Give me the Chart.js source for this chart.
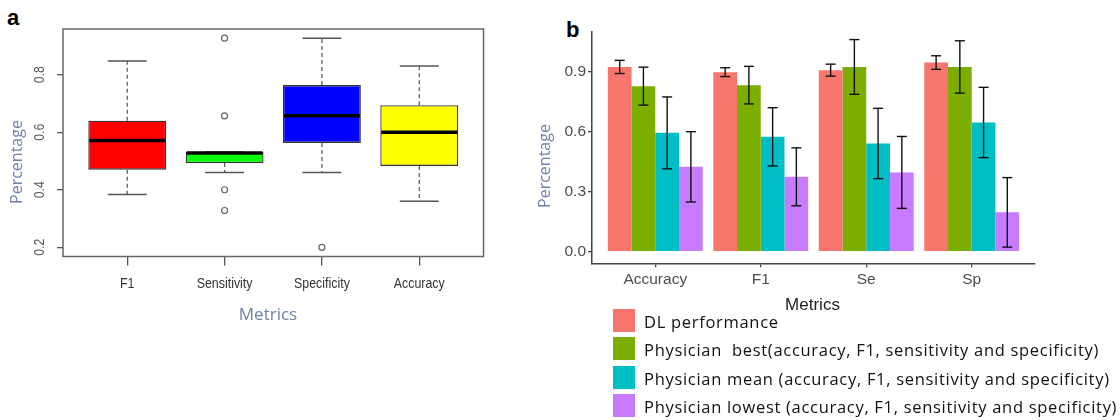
<!DOCTYPE html>
<html>
<head>
<meta charset="utf-8">
<script src="https://cdn.jsdelivr.net/npm/chart.js@4.4.1/dist/chart.umd.min.js"></script>
<style>
  body { margin: 0; width: 1120px; height: 420px; background: #fff; overflow: hidden; position: relative; }
  .panel { position: absolute; top: 0; }
  .tag { position: absolute; font: bold 22px 'Liberation Sans', Arial, sans-serif; color: #000; }
  #legendB { position: absolute; left: 613px; top: 309px; font-family: 'Open Sans', sans-serif; }
  .lg-row { position: relative; height: 28.3px; }
  .lg-box { position: absolute; left: 0; top: 0; width: 22px; height: 23px; }
  .lg-text { position: absolute; left: 31px; top: 0; line-height: 25px; font-size: 16.5px; letter-spacing: 0.7px; color: #111; white-space: pre; }
</style>
</head>
<body>
<div class="tag" style="left:7px; top:5px;">a</div>
<div class="tag" style="left:566px; top:17px;">b</div>
<div class="panel" style="left:0; width:540px; height:420px;"><canvas id="chartA"></canvas></div>
<div class="panel" style="left:520px; width:600px; height:320px;"><canvas id="chartB"></canvas></div>
<div id="legendB"></div>
<script>
// ---- panel a: box plot ----
const metricsA = ['F1', 'Sensitivity', 'Specificity', 'Accuracy'];
const boxColorsA = ['#ff0000', '#00ff00', '#0000ff', '#ffff00'];
const whiskerLowA = [0.384, 0.460, 0.460, 0.360];
const q1A = [0.470, 0.493, 0.563, 0.483];
const medianA = [0.571, 0.528, 0.657, 0.600];
const q3A = [0.640, 0.531, 0.764, 0.694];
const whiskerHighA = [0.848, 0.531, 0.927, 0.830];
const outliersA = [[], [0.927, 0.657, 0.400, 0.328], [0.200], []];
const yTicksA = [0.2, 0.4, 0.6, 0.8];

// ---- panel b: grouped bars with error bars ----
const metricsB = ['Accuracy', 'F1', 'Se', 'Sp'];
const seriesNames = [
    'DL performance',
    'Physician  best(accuracy, F1, sensitivity and specificity)',
    'Physician mean (accuracy, F1, sensitivity and specificity)',
    'Physician lowest (accuracy, F1, sensitivity and specificity)'
];
const seriesColors = ['#f8766d', '#7cae00', '#00bfc4', '#c77cff'];
const dlValues = [0.925, 0.899, 0.909, 0.947];
const dlErr = [0.033, 0.022, 0.030, 0.034];
const bestValues = [0.829, 0.834, 0.925, 0.925];
const bestErr = [0.095, 0.094, 0.137, 0.131];
const meanValues = [0.595, 0.575, 0.542, 0.647];
const meanErr = [0.180, 0.146, 0.176, 0.176];
const lowestValues = [0.425, 0.375, 0.397, 0.197];
const lowestErr = [0.176, 0.145, 0.180, 0.174];
const yTicksB = [0, 0.3, 0.6, 0.9];

const valueSets = [dlValues, bestValues, meanValues, lowestValues];
const errSets = [dlErr, bestErr, meanErr, lowestErr];

const sans = "'Liberation Sans', Arial, sans-serif";
const titleFont = "16px 'Open Sans', sans-serif";
const titleBlue = '#6f80ad';

function line(ctx, x1, y1, x2, y2) {
    ctx.beginPath();
    ctx.moveTo(x1, y1);
    ctx.lineTo(x2, y2);
    ctx.stroke();
}

// centred text; squeeze < 1 narrows the glyphs (R's narrow axis font)
function text(ctx, str, x, y, rot, font, color, squeeze = 1) {
    ctx.save();
    ctx.translate(x, y);
    ctx.rotate(rot);
    ctx.scale(squeeze, 1);
    ctx.font = font;
    ctx.fillStyle = color;
    ctx.textAlign = 'center';
    ctx.textBaseline = 'middle';
    ctx.fillText(str, 0, 0);
    ctx.restore();
}

// whiskers, staples, medians, frame and labels for the box plot
const boxExtras = {
    id: 'boxExtras',
    afterDatasetsDraw(chart) {
        const { ctx, scales: { y } } = chart;
        const bars = chart.getDatasetMeta(0).data;
        ctx.save();
        metricsA.forEach((m, i) => {
            const bar = bars[i];
            const half = bar.width / 2;
            const yLo = y.getPixelForValue(whiskerLowA[i]);
            const yHi = y.getPixelForValue(whiskerHighA[i]);
            ctx.strokeStyle = '#555';
            ctx.lineWidth = 1.2;
            ctx.setLineDash([4, 3]);
            line(ctx, bar.x, y.getPixelForValue(q3A[i]), bar.x, yHi);
            line(ctx, bar.x, y.getPixelForValue(q1A[i]), bar.x, yLo);
            ctx.setLineDash([]);
            ctx.lineWidth = 1.5;
            line(ctx, bar.x - half / 2, yHi, bar.x + half / 2, yHi);
            line(ctx, bar.x - half / 2, yLo, bar.x + half / 2, yLo);
            ctx.strokeStyle = '#000';
            ctx.lineWidth = 3.5;
            const ym = y.getPixelForValue(medianA[i]);
            line(ctx, bar.x - half + 1, ym, bar.x + half - 1, ym);
        });
        ctx.restore();
    },
    afterDraw(chart) {
        const { ctx, chartArea: a, scales: { x, y } } = chart;
        ctx.save();
        ctx.strokeStyle = '#666';
        ctx.lineWidth = 1.5;
        ctx.strokeRect(a.left, a.top, a.right - a.left, a.bottom - a.top);
        yTicksA.forEach(v => {
            text(ctx, v.toFixed(1), 40, y.getPixelForValue(v), -Math.PI / 2, '15px ' + sans, '#555', 0.82);
        });
        metricsA.forEach((m, i) => {
            text(ctx, m, x.getPixelForValue(i + 1), 284, 0, '15.5px ' + sans, '#333', 0.8);
        });
        text(ctx, 'Percentage', 17, 162, -Math.PI / 2, titleFont, titleBlue);
        text(ctx, 'Metrics', 268, 315, 0, "17px 'Open Sans', sans-serif", titleBlue);
        ctx.restore();
    }
};

new Chart(document.getElementById('chartA'), {
    type: 'bar',
    data: {
        datasets: [{
            data: metricsA.map((m, i) => ({ x: i + 1, y: [q1A[i], q3A[i]] })),
            backgroundColor: boxColorsA,
            borderColor: '#333',
            borderWidth: 1.3,
            borderSkipped: false,
            categoryPercentage: 0.8,
            barPercentage: 1.0
        }, {
            type: 'scatter',
            data: outliersA.flatMap((list, i) => list.map(v => ({ x: i + 1, y: v }))),
            pointStyle: 'circle',
            pointRadius: 3,
            backgroundColor: 'rgba(0,0,0,0)',
            borderColor: '#666',
            borderWidth: 1.2
        }]
    },
    options: {
        responsive: true,
        maintainAspectRatio: false,
        animation: false,
        layout: { padding: { left: 0, top: 29, right: 56.5, bottom: 103.5 } },
        plugins: { legend: { display: false }, tooltip: { enabled: false } },
        scales: {
            x: {
                type: 'linear',
                min: 0.34,
                max: 4.66,
                offset: false,
                afterBuildTicks: s => { s.ticks = metricsA.map((m, i) => ({ value: i + 1 })); },
                afterFit: s => { s.height = 60; },
                grid: { offset: false, drawOnChartArea: false, drawTicks: true, tickLength: 9, color: '#555', lineWidth: 1.3 },
                border: { display: false },
                ticks: { display: false }
            },
            y: {
                min: 0.168,
                max: 0.959,
                afterBuildTicks: s => { s.ticks = yTicksA.map(v => ({ value: v })); },
                afterFit: s => { s.width = 63; },
                grid: { drawOnChartArea: false, drawTicks: true, tickLength: 6, color: '#555', lineWidth: 1.3 },
                border: { display: false },
                ticks: { display: false }
            }
        }
    },
    plugins: [boxExtras]
});

// error bars and axis titles for the bar chart
const barExtras = {
    id: 'barExtras',
    afterDatasetsDraw(chart) {
        const { ctx, scales: { y } } = chart;
        ctx.save();
        ctx.strokeStyle = '#111';
        ctx.lineWidth = 1.4;
        valueSets.forEach((vals, d) => {
            const bars = chart.getDatasetMeta(d).data;
            vals.forEach((v, i) => {
                const bx = bars[i].x;
                const top = y.getPixelForValue(v + errSets[d][i]);
                const bot = y.getPixelForValue(v - errSets[d][i]);
                line(ctx, bx, top, bx, bot);
                line(ctx, bx - 5, top, bx + 5, top);
                line(ctx, bx - 5, bot, bx + 5, bot);
            });
        });
        ctx.restore();
    },
    afterDraw(chart) {
        const { ctx } = chart;
        text(ctx, 'Percentage', 25, 166, -Math.PI / 2, titleFont, titleBlue);
        text(ctx, 'Metrics', 292.5, 305, 0, '17px ' + sans, '#222');
    }
};

new Chart(document.getElementById('chartB'), {
    type: 'bar',
    data: {
        datasets: valueSets.map((vals, d) => ({
            label: seriesNames[d],
            data: vals.map((v, i) => ({ x: i + 1, y: v })),
            backgroundColor: seriesColors[d],
            borderWidth: 0,
            categoryPercentage: 0.9,
            barPercentage: 1.0
        }))
    },
    options: {
        responsive: true,
        maintainAspectRatio: false,
        animation: false,
        layout: { padding: { left: 0, top: 32, right: 85, bottom: 0 } },
        plugins: { legend: { display: false }, tooltip: { enabled: false } },
        scales: {
            x: {
                type: 'linear',
                min: 0.4,
                max: 4.6,
                offset: false,
                afterBuildTicks: s => { s.ticks = metricsB.map((m, i) => ({ value: i + 1 })); },
                afterFit: s => { s.height = 56.7; },
                grid: { offset: false, drawOnChartArea: false, drawTicks: true, tickLength: 4, color: '#444', lineWidth: 1.3 },
                border: { display: true, color: '#444', width: 1.5 },
                ticks: {
                    callback: (v, idx) => metricsB[idx],
                    font: { size: 15.5, family: sans },
                    color: '#4d4d4d',
                    padding: 3,
                    maxRotation: 0
                }
            },
            y: {
                min: -0.058,
                max: 1.1,
                afterBuildTicks: s => { s.ticks = yTicksB.map(v => ({ value: v })); },
                afterFit: s => { s.width = 72; },
                grid: { drawOnChartArea: false, drawTicks: true, tickLength: 4, color: '#444', lineWidth: 1.3 },
                border: { display: true, color: '#444', width: 1.5 },
                ticks: {
                    callback: v => v.toFixed(1),
                    font: { size: 15.5, family: sans },
                    color: '#4d4d4d',
                    padding: 2
                }
            }
        }
    },
    plugins: [barExtras]
});

// legend for panel b, built from the series arrays
const legendB = document.getElementById('legendB');
seriesNames.forEach((name, d) => {
    const row = document.createElement('div');
    row.className = 'lg-row';
    row.innerHTML = `<div class="lg-box" style="background:${seriesColors[d]}"></div><div class="lg-text">${name}</div>`;
    legendB.appendChild(row);
});
</script>
</body>
</html>
